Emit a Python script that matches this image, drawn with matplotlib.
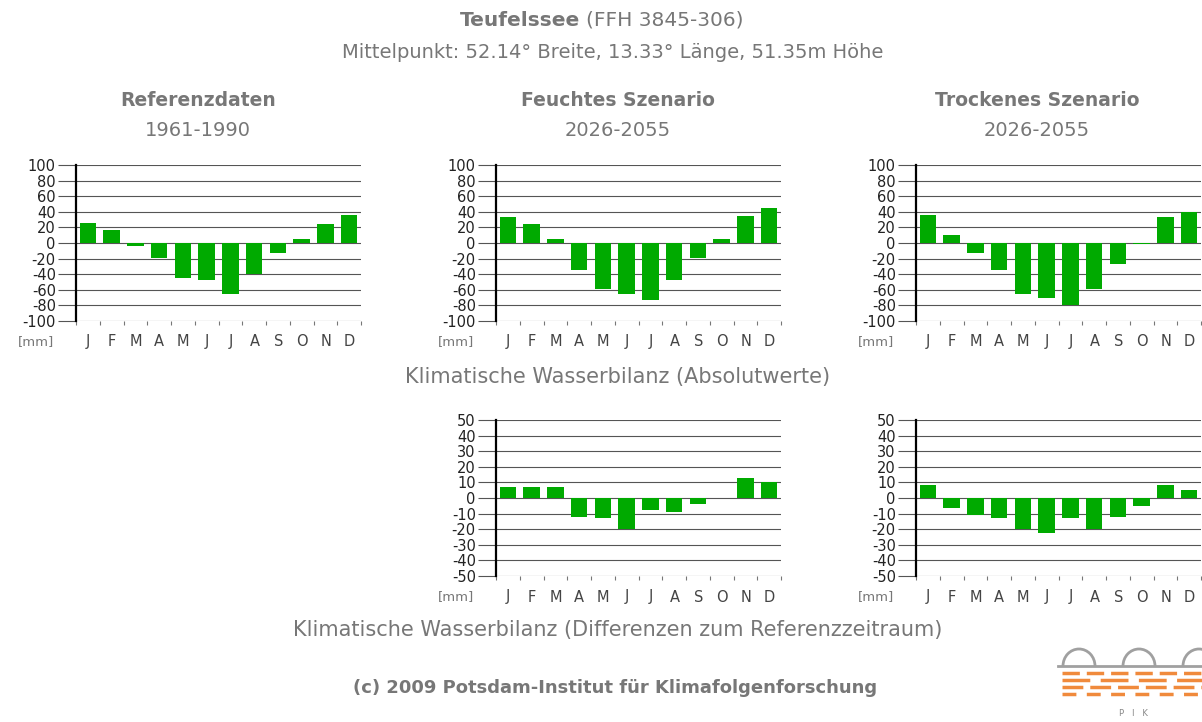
import matplotlib.pyplot as plt
from matplotlib.patches import Arc

# Daten (Klimatische Wasserbilanz, mm)
months = ['J', 'F', 'M', 'A', 'M', 'J', 'J', 'A', 'S', 'O', 'N', 'D']
ref_abs = [26, 17, -4, -19, -45, -48, -66, -40, -13, 5, 24, 36]
wet_abs = [33, 24, 5, -34, -59, -66, -73, -48, -19, 5, 35, 45]
dry_abs = [36, 10, -13, -34, -66, -71, -79, -59, -27, -1, 33, 40]
wet_diff = [7, 7, 7, -12, -13, -20, -8, -9, -4, 0, 13, 10]
dry_diff = [8.5, -6.5, -11, -13, -20, -22.5, -13, -20, -12, -5, 8.5, 5]

abs_ticks = [100, 80, 60, 40, 20, 0, -20, -40, -60, -80, -100]
diff_ticks = [50, 40, 30, 20, 10, 0, -10, -20, -30, -40, -50]

col_titles = ['Referenzdaten', 'Feuchtes Szenario', 'Trockenes Szenario']
col_periods = ['1961-1990', '2026-2055', '2026-2055']

W, H = 1202, 722
plt.rcParams['font.family'] = ['DejaVu Sans']
fig = plt.figure(figsize=(W / 100, H / 100), dpi=100)

GREEN = '#00aa00'
TXT = '#777777'


def fx(x):
    return x / W


def fy(y):
    return 1 - y / H


def draw_chart(left, top, values, ticks):
    ax = fig.add_axes([fx(left), fy(top + 156), 285 / W, 156 / H])
    x = range(len(values))
    ax.bar(x, values, width=0.7, color=GREEN, zorder=3)
    ax.set_xlim(-0.5, 11.5)
    ax.set_ylim(ticks[-1], ticks[0])
    ax.set_yticks(ticks)
    ax.set_yticklabels([str(t) for t in ticks], fontsize=10.5, color='#222222')
    ax.tick_params(axis='y', length=13, width=0.8, color='#555555', pad=1.5)
    ax.set_xticks([i - 0.5 for i in range(13)])
    ax.set_xticklabels([])
    ax.tick_params(axis='x', length=3, width=0.8, color='#777777')
    ax.grid(axis='y', color='#555555', linewidth=0.8, zorder=1)
    for s in ['top', 'bottom', 'right']:
        ax.spines[s].set_visible(False)
    ax.spines['left'].set_linewidth(1.6)
    ax.spines['left'].set_color('black')
    ax.spines['left'].set_zorder(4)
    # Monatsbeschriftung
    for i, m in enumerate(months):
        fig.text(fx(left + 23.8 * (i + 0.5)), fy(top + 177), m,
                 ha='center', va='center', fontsize=10.5, color='#444444')
    fig.text(fx(left - 40), fy(top + 177), '[mm]', ha='center', va='center',
             fontsize=9.5, color=TXT)
    return ax


lefts = [76, 496, 916]
for left, vals in zip(lefts, [ref_abs, wet_abs, dry_abs]):
    draw_chart(left, 165, vals, abs_ticks)
for left, vals in zip(lefts[1:], [wet_diff, dry_diff]):
    draw_chart(left, 420, vals, diff_ticks)

# Titel
fig.text(fx(580), fy(20), 'Teufelssee', ha='right', va='center',
         fontsize=14.5, fontweight='bold', color=TXT)
fig.text(fx(586), fy(20), '(FFH 3845-306)', ha='left', va='center',
         fontsize=14.5, color=TXT)
fig.text(fx(613), fy(52), 'Mittelpunkt: 52.14° Breite, 13.33° Länge, 51.35m Höhe',
         ha='center', va='center', fontsize=14, color=TXT)

centers = [198, 618, 1037]
for c, t, p in zip(centers, col_titles, col_periods):
    fig.text(fx(c), fy(100), t, ha='center', va='center', fontsize=13.5,
             fontweight='bold', color=TXT)
    fig.text(fx(c), fy(130), p, ha='center', va='center', fontsize=14, color=TXT)

fig.text(fx(618), fy(377), 'Klimatische Wasserbilanz (Absolutwerte)', ha='center',
         va='center', fontsize=15, color=TXT)
fig.text(fx(618), fy(630), 'Klimatische Wasserbilanz (Differenzen zum Referenzzeitraum)',
         ha='center', va='center', fontsize=15, color=TXT)
fig.text(fx(615), fy(688), '(c) 2009 Potsdam-Institut für Klimafolgenforschung',
         ha='center', va='center', fontsize=13, fontweight='bold', color=TXT)

# PIK-Logo (vereinfacht)
lax = fig.add_axes([fx(1050), fy(722), 152 / W, 92 / H])
lax.set_xlim(1050, 1202)
lax.set_ylim(722, 630)
lax.axis('off')
for cx in [1079, 1139, 1199]:
    lax.add_patch(Arc((cx, 666), 32, 34, theta1=180, theta2=360, color='#a0a0a0', lw=2))
lax.plot([1058, 1202], [666, 666], color='#a0a0a0', lw=2)
for yy, d in zip([673, 680, 687, 694], [(5, 2), (8, 3), (6, 2), (4, 3)]):
    lax.plot([1062, 1202], [yy, yy], color='#f08a3c', lw=2.5, dashes=d)
lax.text(1133, 713, 'P   I   K', ha='center', va='center', fontsize=6, color='#888888')

fig.savefig('out.png', dpi=100)
